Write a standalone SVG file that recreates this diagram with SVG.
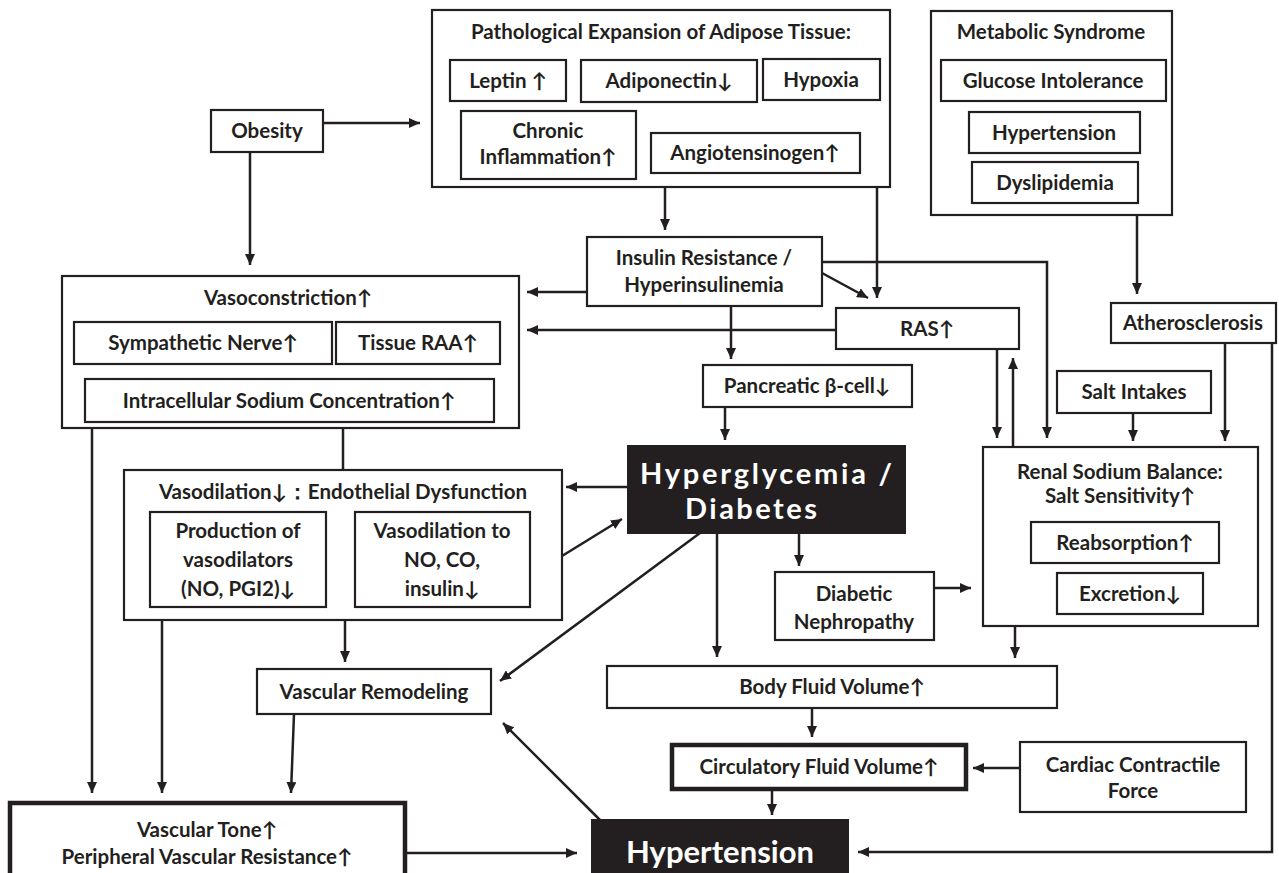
<svg xmlns="http://www.w3.org/2000/svg" width="1279" height="873" viewBox="0 0 1279 873">
<style>
.b{fill:#fff;stroke:#231f20;stroke-width:2.2}
.k{stroke-width:4.5}
.d{fill:#231f20;stroke:#231f20;stroke-width:2}
.t{font-family:Lato,"Open Sans","Liberation Sans",sans-serif;font-weight:700;font-size:20.5px;fill:#231f20;text-anchor:middle}
.w{fill:#fff}
.big{font-size:29px}
.c path{stroke:#231f20;stroke-width:2.5;fill:none;marker-end:url(#a)}
.c path.n{marker-end:none}
</style>
<defs>
<marker id="a" markerUnits="userSpaceOnUse" markerWidth="11" markerHeight="10" refX="11" refY="5" orient="auto">
<path d="M0,0 L11,5 L0,10 z" fill="#231f20"/>
</marker>
</defs>
<rect width="1279" height="873" fill="#fff"/>
<g class="c" id="connectors">
<path d="M323,123 H420"/>
<path d="M250,152 V265"/>
<path d="M665,187 V230"/>
<path d="M877,187 V298"/>
<path d="M822,273 L868,298"/>
<path d="M587,292 H527"/>
<path d="M822,262 H1047 V438"/>
<path d="M836,330 H527"/>
<path d="M731,306 V359"/>
<path d="M725,407 V440"/>
<path d="M997,349 V438"/>
<path d="M1013,447 V358"/>
<path d="M1137,215 V294"/>
<path d="M1133,413 V441"/>
<path d="M1225,343 V441"/>
<path d="M1272,343 V852 H858"/>
<path class="n" d="M343,428 V470"/>
<path d="M628,487 H566"/>
<path d="M562,556 L622,519"/>
<path d="M700,533 L500,681"/>
<path d="M92,428 V793"/>
<path d="M162,620 V793"/>
<path d="M345,620 V662"/>
<path d="M294,714 L291,793"/>
<path d="M405,853 H577"/>
<path d="M600,820 L503,723"/>
<path d="M717,533 V657"/>
<path d="M799,533 V566"/>
<path d="M934,588 H971"/>
<path d="M1015,626 V658"/>
<path d="M812,708 V737"/>
<path d="M1020,768 H973"/>
<path d="M772,789 V815"/>
</g>
<g id="obesity"><rect class="b" x="211" y="110" width="112" height="42"/><text class="t" x="267" y="138">Obesity</text></g>
<g id="pathological">
<rect class="b" x="432" y="10" width="458" height="177"/>
<text class="t" x="661" y="39">Pathological Expansion of Adipose Tissue:</text>
<g id="leptin"><rect class="b" x="450" y="60" width="116" height="41"/><text class="t" x="508" y="88">Leptin ↑</text></g>
<g id="adiponectin"><rect class="b" x="581" y="60" width="176" height="42"/><text class="t" x="669" y="88">Adiponectin↓</text></g>
<g id="hypoxia"><rect class="b" x="763" y="59" width="117" height="41"/><text class="t" x="821" y="87">Hypoxia</text></g>
<g id="chronic"><rect class="b" x="461" y="111" width="175" height="68"/><text class="t" x="548" y="138">Chronic</text><text class="t" x="548" y="164">Inflammation↑</text></g>
<g id="angiotensinogen"><rect class="b" x="651" y="133" width="209" height="40"/><text class="t" x="755" y="160">Angiotensinogen↑</text></g>
</g>
<g id="metabolic">
<rect class="b" x="931" y="11" width="241" height="204"/>
<text class="t" x="1051" y="39">Metabolic Syndrome</text>
<g id="glucose"><rect class="b" x="941" y="60" width="225" height="41"/><text class="t" x="1053" y="88">Glucose Intolerance</text></g>
<g id="ms-hypertension"><rect class="b" x="969" y="112" width="171" height="41"/><text class="t" x="1054" y="140">Hypertension</text></g>
<g id="dyslipidemia"><rect class="b" x="972" y="162" width="166" height="41"/><text class="t" x="1055" y="190">Dyslipidemia</text></g>
</g>
<g id="insulin"><rect class="b" x="587" y="237" width="235" height="69"/><text class="t" x="704" y="265">Insulin Resistance /</text><text class="t" x="704" y="292">Hyperinsulinemia</text></g>
<g id="ras"><rect class="b" x="836" y="308" width="183" height="41"/><text class="t" x="927" y="336">RAS↑</text></g>
<g id="vasoconstriction">
<rect class="b" x="62" y="276" width="457" height="152"/>
<text class="t" x="288" y="305">Vasoconstriction↑</text>
<g id="sympathetic"><rect class="b" x="74" y="322" width="258" height="42"/><text class="t" x="203" y="350">Sympathetic Nerve↑</text></g>
<g id="tissue-raa"><rect class="b" x="336" y="322" width="164" height="42"/><text class="t" x="418" y="350">Tissue RAA↑</text></g>
<g id="intracellular"><rect class="b" x="85" y="379" width="409" height="43"/><text class="t" x="289" y="408">Intracellular Sodium Concentration↑</text></g>
</g>
<g id="pancreatic"><rect class="b" x="703" y="365" width="209" height="42"/><text class="t" x="807" y="393">Pancreatic β-cell↓</text></g>
<g id="atherosclerosis"><rect class="b" x="1111" y="303" width="165" height="40"/><text class="t" x="1193" y="330">Atherosclerosis</text></g>
<g id="salt"><rect class="b" x="1057" y="371" width="154" height="42"/><text class="t" x="1134" y="399">Salt Intakes</text></g>
<g id="hyperglycemia"><rect class="d" x="628" y="446" width="277" height="87"/><text class="t w big" x="766" y="484" textLength="252" lengthAdjust="spacing">Hyperglycemia /</text><text class="t w big" x="751" y="519" textLength="132" lengthAdjust="spacing">Diabetes</text></g>
<g id="vasodilation">
<rect class="b" x="124" y="470" width="438" height="150"/>
<text class="t" x="343" y="499">Vasodilation↓：Endothelial Dysfunction</text>
<g id="production"><rect class="b" x="150" y="512" width="176" height="95"/><text class="t" x="238" y="538">Production of</text><text class="t" x="238" y="567">vasodilators</text><text class="t" x="238" y="596">(NO, PGI2)↓</text></g>
<g id="vasodilation-to"><rect class="b" x="355" y="512" width="175" height="95"/><text class="t" x="442" y="538">Vasodilation to</text><text class="t" x="442" y="567">NO, CO,</text><text class="t" x="442" y="596">insulin↓</text></g>
</g>
<g id="renal">
<rect class="b" x="983" y="447" width="275" height="179"/>
<text class="t" x="1120" y="479">Renal Sodium Balance:</text>
<text class="t" x="1120" y="503">Salt Sensitivity↑</text>
<g id="reabsorption"><rect class="b" x="1031" y="522" width="188" height="41"/><text class="t" x="1125" y="550">Reabsorption↑</text></g>
<g id="excretion"><rect class="b" x="1057" y="573" width="146" height="41"/><text class="t" x="1130" y="601">Excretion↓</text></g>
</g>
<g id="nephropathy"><rect class="b" x="775" y="572" width="159" height="68"/><text class="t" x="854" y="601">Diabetic</text><text class="t" x="854" y="629">Nephropathy</text></g>
<g id="body-fluid"><rect class="b" x="607" y="666" width="450" height="42"/><text class="t" x="832" y="694">Body Fluid Volume↑</text></g>
<g id="remodeling"><rect class="b" x="257" y="669" width="234" height="45"/><text class="t" x="374" y="699">Vascular Remodeling</text></g>
<g id="circulatory"><rect class="b k" x="672" y="745" width="294" height="44"/><text class="t" x="819" y="774">Circulatory Fluid Volume↑</text></g>
<g id="cardiac"><rect class="b" x="1020" y="742" width="226" height="70"/><text class="t" x="1133" y="772">Cardiac Contractile</text><text class="t" x="1133" y="798">Force</text></g>
<g id="vascular-tone"><rect class="b k" x="10" y="803" width="395" height="75"/><text class="t" x="207" y="837">Vascular Tone↑</text><text class="t" x="207" y="864">Peripheral Vascular Resistance↑</text></g>
<g id="hypertension"><rect class="d" x="592" y="820" width="256" height="60"/><text class="t w" x="720" y="863" style="font-size:31px">Hypertension</text></g>
</svg>
